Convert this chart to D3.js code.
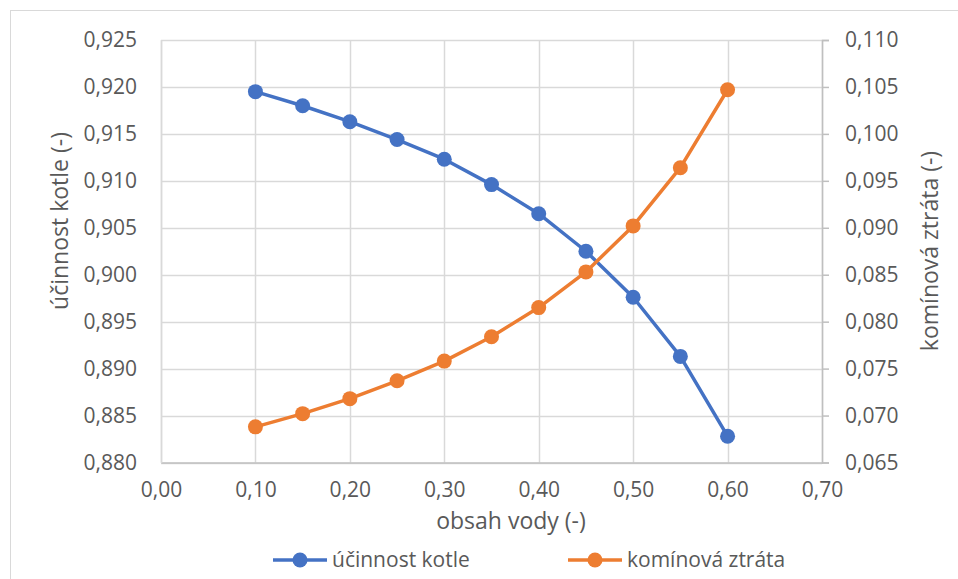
<!DOCTYPE html>
<html>
<head>
<meta charset="utf-8">
<script src="https://cdn.jsdelivr.net/npm/d3@7"></script>
<style>
  html, body { margin: 0; padding: 0; background: #fff; }
  svg { display: block; }
  text { font-family: "Open Sans", "Liberation Sans", sans-serif; fill: #595959; }
</style>
</head>
<body>
<svg id="chart" width="958" height="579"></svg>
<script>
// ---- data ----
const waterContent = [0.10, 0.15, 0.20, 0.25, 0.30, 0.35, 0.40, 0.45, 0.50, 0.55, 0.60];
const efficiency = [0.9195, 0.9180, 0.9163, 0.9144, 0.9123, 0.9096, 0.9065, 0.9025, 0.8976, 0.8913, 0.8828];
const chimneyLoss = [0.0688, 0.0702, 0.0718, 0.0737, 0.0758, 0.0784, 0.0815, 0.0853, 0.0902, 0.0964, 0.1047];
const xTicks = [0, 0.1, 0.2, 0.3, 0.4, 0.5, 0.6, 0.7];
const yLeftTicks = [0.880, 0.885, 0.890, 0.895, 0.900, 0.905, 0.910, 0.915, 0.920, 0.925];
const yRightTicks = [0.065, 0.070, 0.075, 0.080, 0.085, 0.090, 0.095, 0.100, 0.105, 0.110];
const seriesNames = ["účinnost kotle", "komínová ztráta"];
const colors = ["#4472C4", "#ED7D31"];

const svg = d3.select("#chart");
const fmt = (d, p) => d.toFixed(p).replace(".", ",");

// outer chart border
svg.append("rect").attr("x", 10.5).attr("y", 10.5).attr("width", 1000).attr("height", 1000)
  .attr("fill", "none").attr("stroke", "#d9d9d9").attr("stroke-width", 1);

const L = 161, R = 822, T = 40, B = 462.5;
const x = d3.scaleLinear().domain([0, 0.7]).range([L, R]);
const yL = d3.scaleLinear().domain([0.880, 0.925]).range([B, T]);
const yR = d3.scaleLinear().domain([0.065, 0.110]).range([B, T]);

// gridlines
const grid = svg.append("g");
grid.selectAll(".hg").data(yLeftTicks).enter().append("line")
  .attr("x1", L).attr("x2", R).attr("y1", d => Math.round(yL(d)) + 0.5).attr("y2", d => Math.round(yL(d)) + 0.5)
  .attr("stroke", "#d9d9d9").attr("stroke-width", 1.5);
grid.selectAll(".vg").data(xTicks).enter().append("line")
  .attr("y1", T).attr("y2", B).attr("x1", d => Math.round(x(d)) + 0.5).attr("x2", d => Math.round(x(d)) + 0.5)
  .attr("stroke", "#d9d9d9").attr("stroke-width", 1.5);

// axes
const axB = svg.append("g").attr("transform", `translate(0,${B})`)
  .call(d3.axisBottom(x).tickValues(xTicks).tickSize(0).tickPadding(20).tickFormat(d => fmt(d, 2)));
const axL = svg.append("g").attr("transform", `translate(${L},0)`)
  .call(d3.axisLeft(yL).tickValues(yLeftTicks).tickSize(0).tickPadding(24).tickFormat(d => fmt(d, 3)));
const axR = svg.append("g").attr("transform", `translate(${R},0)`)
  .call(d3.axisRight(yR).tickValues(yRightTicks).tickSize(7).tickPadding(16).tickFormat(d => fmt(d, 3)));
[axB, axL, axR].forEach(a => {
  a.selectAll("text").style("font-size", "21px").attr("fill", "#595959");
  a.select(".domain").attr("stroke", "#bfbfbf").attr("stroke-width", 1.5);
  a.selectAll(".tick line").attr("stroke", "#bfbfbf").attr("stroke-width", 1.5);
});
axL.select(".domain").attr("stroke", "#d9d9d9");

// axis titles
svg.append("text").attr("x", 511).attr("y", 529).attr("text-anchor", "middle")
  .style("font-size", "23px").text("obsah vody (-)");
svg.append("text").attr("transform", `translate(68,221) rotate(-90)`).attr("text-anchor", "middle")
  .style("font-size", "23px").text("účinnost kotle (-)");
svg.append("text").attr("transform", `translate(938,251) rotate(-90)`).attr("text-anchor", "middle")
  .style("font-size", "23px").text("komínová ztráta (-)");

// series
const series = [
  { vals: efficiency, y: yL },
  { vals: chimneyLoss, y: yR }
];
series.forEach((s, i) => {
  const pts = waterContent.map((w, j) => [x(w), s.y(s.vals[j])]);
  svg.append("path").attr("d", d3.line()(pts)).attr("fill", "none")
    .attr("stroke", colors[i]).attr("stroke-width", 3.5).attr("stroke-linejoin", "round");
  svg.append("g").selectAll("circle").data(pts).enter().append("circle")
    .attr("cx", d => d[0]).attr("cy", d => d[1]).attr("r", 7.5).attr("fill", colors[i]);
});

// legend
const legendX = [273, 568];
seriesNames.forEach((n, i) => {
  const g = svg.append("g").attr("transform", `translate(${legendX[i]},560)`);
  g.append("line").attr("x1", 0).attr("x2", 54).attr("y1", 0).attr("y2", 0)
    .attr("stroke", colors[i]).attr("stroke-width", 3.5);
  g.append("circle").attr("cx", 27).attr("cy", 0).attr("r", 7.5).attr("fill", colors[i]);
  g.append("text").attr("x", 59).attr("y", 7).style("font-size", "21px").text(n);
});
</script>
</body>
</html>
